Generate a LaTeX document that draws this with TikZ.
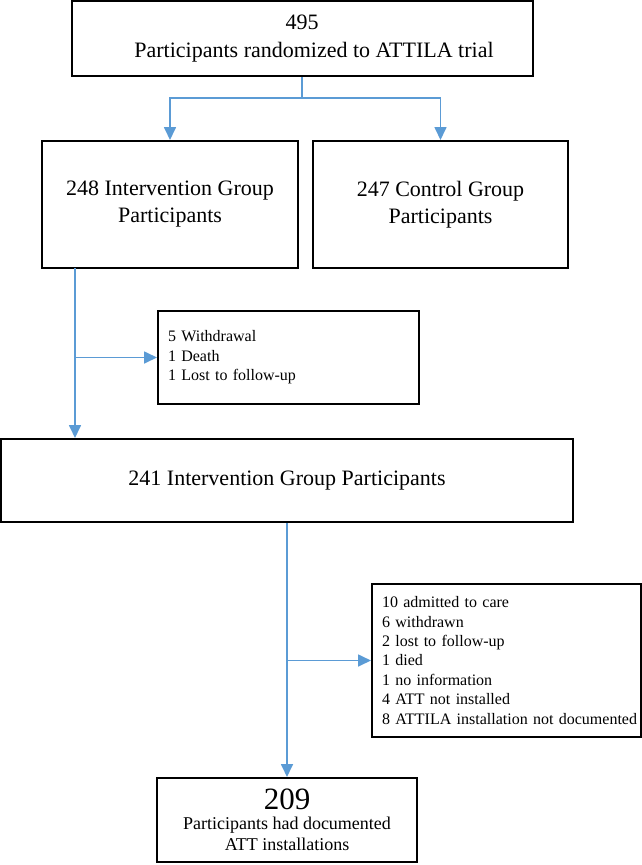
\documentclass[tikz,border=0pt]{standalone}
\usepackage{fontspec}
\setmainfont{Liberation Serif}
\usepackage{xcolor}
\usepackage{tikz}
\usetikzlibrary{arrows.meta}
\definecolor{flowblue}{RGB}{91,155,213}

\begin{document}
\begin{tikzpicture}[x=1pt,y=-1pt,
    box/.style={draw=black,line width=2pt,rectangle,inner sep=0pt,align=center},
    bigtext/.style={font=\fontsize{22}{27}\selectfont},
    listbox/.style={box,align=left,inner xsep=10pt,font=\fontsize{16}{19.4}\selectfont},
    link/.style={draw=flowblue,line width=1.7pt},
    arrow/.style={link,-{Triangle[length=13pt,width=12pt]}}]
    \useasboundingbox (0,0) rectangle (642,865);
    % boxes
    \node[box,bigtext,minimum width=461pt,minimum height=75pt] (rand) at (302,38.5)
        {495\\[1pt]\hspace*{24pt}Participants randomized to ATTILA trial};
    \node[box,bigtext,minimum width=256pt,minimum height=127pt] (interv) at (170,204.5)
        {248 Intervention Group\\Participants};
    \node[box,bigtext,minimum width=255pt,minimum height=127pt] (ctrl) at (440.5,204.5)
        {247 Control Group\\Participants};
    \node[listbox,text width=241pt,minimum height=93pt] (excl1) at (288.5,357.5)
        {5 Withdrawal\\1 Death\\1 Lost to follow-up};
    \node[box,bigtext,minimum width=572pt,minimum height=83pt] (interv2) at (287,480.5)
        {241 Intervention Group Participants};
    \node[listbox,text width=249pt,minimum height=153pt] (excl2) at (506.5,660.5)
        {10 admitted to care\\6 withdrawn\\2 lost to follow-up\\1 died\\1 no information\\4 ATT not installed\\\mbox{8 ATTILA installation not documented}};
    \node[box,font=\fontsize{18}{21}\selectfont,minimum width=260pt,minimum height=84pt] (final) at (287,820)
        {{\fontsize{31}{34}\selectfont 209}\\[-1pt]Participants had documented\\ATT installations};
    % connectors
    \draw[link] (rand.south) -- ++(0,21) coordinate (split);
    \foreach \target in {interv, ctrl}
        \draw[arrow] (split) -| (\target.north);
    \coordinate (tapA) at (75,268);
    \draw[arrow] (tapA) -- (tapA |- interv2.north);
    \draw[arrow] (tapA |- excl1.west) -- (excl1.west);
    \draw[arrow] (interv2.south) -- (final.north);
    \draw[arrow] (interv2.south |- excl2.west) -- (excl2.west);
\end{tikzpicture}
\end{document}
